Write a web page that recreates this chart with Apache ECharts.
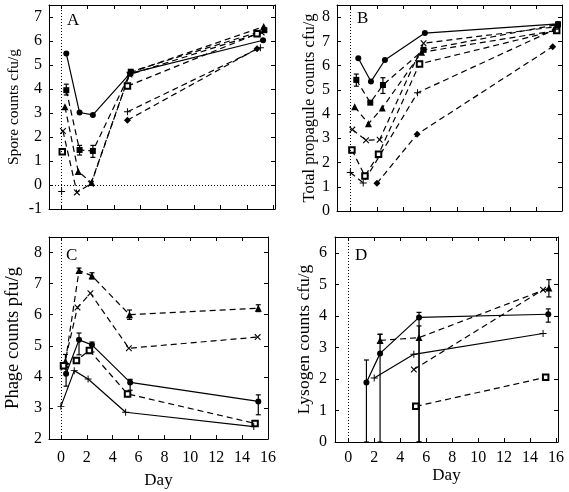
<!DOCTYPE html>
<html><head><meta charset="utf-8">
<script src="https://cdn.jsdelivr.net/npm/echarts@6/dist/echarts.min.js"></script>
<style>html,body{margin:0;padding:0;background:#fff}#c{width:569px;height:492px}</style>
</head><body><div id="c"></div>
<script>
// ---------- tick labels / names ----------
const dayTicks = [0, 2, 4, 6, 8, 10, 12, 14, 16];
const yTicksA = [-1, 0, 1, 2, 3, 4, 5, 6, 7];
const yTicksB = [0, 1, 2, 3, 4, 5, 6, 7, 8];
const yTicksC = [2, 3, 4, 5, 6, 7, 8];
const yTicksD = [0, 1, 2, 3, 4, 5, 6];
const panelLetters = ['A', 'B', 'C', 'D'];
const yNames = ['Spore counts cfu/g', 'Total propagule counts cfu/g', 'Phage counts pfu/g', 'Lysogen counts cfu/g'];
const xName = 'Day';

// ---------- data: [day, value] ----------
// Panel A - spore counts
const A_circle = [[0.4, 5.48], [1.4, 3.02], [2.4, 2.92], [5.2, 4.65], [15.2, 6.03]];
const A_square = [[0.4, 3.95], [1.4, 1.46], [2.4, 1.42], [5.25, 4.72], [15.3, 6.45]];
const A_squareErr = [[0.4, 3.75, 4.2], [1.4, 1.25, 1.65], [2.4, 1.15, 1.65]];
const A_triangle = [[0.3, 3.26], [1.3, 0.56], [2.3, 0.1], [5.2, 4.68], [15.25, 6.6]];
const A_cross = [[0.15, 2.25], [1.2, -0.31], [2.25, 0.05], [5.15, 4.6], [15.1, 6.35]];
const A_openSquare = [[0.1, 1.39], [5.0, 4.12], [14.75, 6.3]];
const A_plus = [[0.05, -0.27], [5.0, 3.05], [15.0, 5.72]];
const A_diamond = [[5.0, 2.7], [14.75, 5.68]];
// Panel B - total propagule counts
const B_circle = [[0.6, 6.3], [1.55, 5.34], [2.6, 6.23], [5.6, 7.34], [15.6, 7.72]];
const B_square = [[0.45, 5.41], [1.5, 4.47], [2.45, 5.2], [5.5, 6.65], [15.6, 7.7]];
const B_squareErr = [[0.45, 5.15, 5.65], [2.45, 4.85, 5.5]];
const B_triangle = [[0.33, 4.3], [1.36, 3.6], [2.4, 4.25], [5.35, 6.55], [15.5, 7.45]];
const B_cross = [[0.15, 3.36], [1.18, 2.92], [2.2, 2.94], [5.5, 6.92], [15.4, 7.6]];
const B_openSquare = [[0.12, 2.52], [1.1, 1.44], [2.12, 2.34], [5.2, 6.07], [15.5, 7.45]];
const B_plus = [[0, 1.59], [0.97, 1.16], [5.05, 4.88], [15.4, 7.5]];
const B_diamond = [[2.0, 1.14], [5.02, 3.17], [15.2, 6.78]];
// Panel C - phage counts
const C_triangle = [[0.35, 4.5], [1.4, 7.42], [2.4, 7.25], [5.3, 6.0], [15.25, 6.21]];
const C_triangleErr = [[0.35, 4.3, 4.72], [1.4, 7.35, 7.5], [2.4, 7.15, 7.35], [5.3, 5.85, 6.15], [15.25, 6.1, 6.32]];
const C_cross = [[0.2, 4.3], [1.28, 6.23], [2.28, 6.69], [5.25, 4.92], [15.2, 5.28]];
const C_circle = [[0.4, 4.1], [1.4, 5.19], [2.4, 5.03], [5.35, 3.82], [15.25, 3.21]];
const C_circleErr = [[0.4, 3.7, 4.34], [1.4, 4.71, 5.41], [2.4, 4.8, 5.12], [5.35, 3.57, 3.92], [15.25, 2.78, 3.42]];
const C_openSquare = [[0.2, 4.36], [1.2, 4.53], [2.2, 4.85], [5.15, 3.45], [15.0, 2.5]];
const C_plus = [[0, 3.05], [1.03, 4.2], [2.1, 3.93], [5.0, 2.86], [14.9, 2.4]];
// Panel D - lysogen counts
const D_circle = [[1.4, 1.89], [2.45, 2.81], [5.45, 3.95], [15.4, 4.05]];
const D_circleErr = [[1.4, 0, 2.6], [2.45, 0, 3.41], [5.45, 0, 4.11], [15.4, 3.8, 4.22]];
const D_plus = [[2.0, 2.03], [5.05, 2.78], [15.0, 3.44]];
const D_triangle = [[2.45, 3.22], [5.45, 3.31], [15.45, 4.88]];
const D_triangleErr = [[2.45, 3.15, 3.42], [5.45, 0, 3.68], [15.45, 4.6, 5.15]];
const D_cross = [[5.05, 2.3], [15.0, 4.83]];
const D_openSquare = [[5.2, 1.13], [15.2, 2.05]];

// ---------- layout ----------
const FONT = '"Liberation Serif", "Times New Roman", serif';
const grids = [
  {left: 49, top: 5, width: 226, height: 204},
  {left: 337, top: 5, width: 225, height: 206},
  {left: 49, top: 237, width: 219, height: 202},
  {left: 335, top: 237, width: 223, height: 205}
];
const xRanges = [[-0.9, 16.1], [-1.0, 15.9], [-0.92, 16.0], [-1.02, 16.15]];
const yRanges = [[-1, 7.5], [0, 8.5], [2, 8.5], [0, 6.5]];
const yTickSets = [yTicksA, yTicksB, yTicksC, yTicksD];
const yNameGaps = [27, 19, 26, 22];
const yNameSizes = [15.5, 16.5, 18.5, 17.5];
const yLabelMargins = [7, 7, 7, 8];
const showXLabels = [false, false, true, true];
const xLabelMargins = [8, 8, 11, 8];
const xNameGaps = [30, 30, 33, 21];
const letterPos = [[67, 12], [357, 10], [66, 247], [355, 247]];
const TICK_SIZE = 16;

const xAxes = [], yAxes = [];
for (let i = 0; i < 4; i++) {
  const base = {
    type: 'value', gridIndex: i, min: xRanges[i][0], max: xRanges[i][1],
    splitLine: {show: false},
    axisLine: {show: true, onZero: false, lineStyle: {color: '#000', width: 1}},
    axisTick: {show: true, inside: true, length: 4, customValues: dayTicks, lineStyle: {color: '#000'}}
  };
  xAxes.push(Object.assign({}, base, {
    position: 'bottom',
    name: showXLabels[i] ? xName : '', nameLocation: 'middle', nameGap: xNameGaps[i],
    nameTextStyle: {fontFamily: FONT, fontSize: 17, color: '#000'},
    axisLabel: {show: showXLabels[i], customValues: dayTicks, margin: xLabelMargins[i],
      fontFamily: FONT, fontSize: TICK_SIZE, color: '#000'}
  }));
  xAxes.push(Object.assign({}, base, {position: 'top', axisLabel: {show: false}}));
  const ybase = {
    type: 'value', gridIndex: i, min: yRanges[i][0], max: yRanges[i][1],
    splitLine: {show: false},
    axisLine: {show: true, onZero: false, lineStyle: {color: '#000', width: 1}},
    axisTick: {show: true, inside: true, length: 4, customValues: yTickSets[i], lineStyle: {color: '#000'}}
  };
  yAxes.push(Object.assign({}, ybase, {
    position: 'left', name: yNames[i], nameLocation: 'middle', nameGap: yNameGaps[i],
    nameTextStyle: {fontFamily: FONT, fontSize: yNameSizes[i], color: '#000'},
    axisLabel: {show: true, customValues: yTickSets[i], margin: yLabelMargins[i],
      fontFamily: FONT, fontSize: TICK_SIZE, color: '#000'}
  }));
  yAxes.push(Object.assign({}, ybase, {position: 'right', axisLabel: {show: false}}));
}

const PLUS = 'path://M4.3,0H5.7V4.3H10V5.7H5.7V10H4.3V5.7H0V4.3H4.3Z';
const MARK = {
  circle: {symbol: 'circle', size: 6},
  square: {symbol: 'rect', size: 6},
  triangle: {symbol: 'triangle', size: 7},
  cross: {symbol: PLUS, size: 8, rotate: 45},
  openSquare: {symbol: 'emptyRect', size: 5.5},
  plus: {symbol: PLUS, size: 7},
  diamond: {symbol: 'diamond', size: 7}
};

function lineSeries(panel, data, mark, dashed, extra) {
  const m = MARK[mark];
  return Object.assign({
    type: 'line', xAxisIndex: panel * 2, yAxisIndex: panel * 2, data: data,
    symbol: m.symbol, symbolSize: m.size, symbolRotate: m.rotate || 0,
    showAllSymbol: true, animation: false, z: 3,
    lineStyle: {color: '#000', width: 1.2, type: dashed ? [6, 4] : 'solid'},
    itemStyle: {color: '#000', borderColor: '#000', borderWidth: mark === 'openSquare' ? 1 : 0}
  }, extra || {});
}

function errRender(params, api) {
  const x = api.value(0), lo = api.value(1), hi = api.value(2);
  const p1 = api.coord([x, lo]), p2 = api.coord([x, hi]);
  const w = 2.5, st = {stroke: '#000', lineWidth: 1.2};
  return {type: 'group', children: [
    {type: 'line', shape: {x1: p1[0], y1: p1[1], x2: p2[0], y2: p2[1]}, style: st},
    {type: 'line', shape: {x1: p1[0] - w, y1: p1[1], x2: p1[0] + w, y2: p1[1]}, style: st},
    {type: 'line', shape: {x1: p2[0] - w, y1: p2[1], x2: p2[0] + w, y2: p2[1]}, style: st}
  ]};
}
function errSeries(panel, data) {
  return {type: 'custom', xAxisIndex: panel * 2, yAxisIndex: panel * 2, data: data,
    encode: {x: 0, y: [1, 2]}, renderItem: errRender, animation: false, z: 2, silent: true};
}

function zeroLines(panel, withY) {
  const d = [{xAxis: 0}];
  if (withY) d.push({yAxis: 0});
  return {type: 'line', xAxisIndex: panel * 2, yAxisIndex: panel * 2, data: [],
    markLine: {silent: true, symbol: 'none', animation: false, label: {show: false},
      lineStyle: {color: '#000', width: 1, type: [1, 2]}, data: d}};
}

const gap = (x) => [x, '-'];

const series = [
  zeroLines(0, true), zeroLines(1, false), zeroLines(2, false), zeroLines(3, false),
  // A
  lineSeries(0, A_circle, 'circle', false),
  lineSeries(0, A_square, 'square', true),
  errSeries(0, A_squareErr),
  lineSeries(0, A_triangle, 'triangle', true),
  lineSeries(0, A_cross, 'cross', true),
  lineSeries(0, [A_openSquare[0], gap(2), A_openSquare[1], A_openSquare[2]], 'openSquare', true),
  lineSeries(0, [A_plus[0], gap(2), A_plus[1], A_plus[2]], 'plus', true),
  lineSeries(0, A_diamond, 'diamond', true),
  // B
  lineSeries(1, B_circle, 'circle', false),
  lineSeries(1, B_square, 'square', true),
  errSeries(1, B_squareErr),
  lineSeries(1, B_triangle, 'triangle', true),
  lineSeries(1, B_cross, 'cross', true),
  lineSeries(1, B_openSquare, 'openSquare', true),
  lineSeries(1, B_plus, 'plus', true),
  lineSeries(1, B_diamond, 'diamond', true),
  // C
  lineSeries(2, C_triangle, 'triangle', true),
  errSeries(2, C_triangleErr),
  lineSeries(2, C_cross, 'cross', true),
  lineSeries(2, C_circle, 'circle', false),
  errSeries(2, C_circleErr),
  lineSeries(2, C_openSquare, 'openSquare', true),
  lineSeries(2, C_plus, 'plus', false),
  // D
  lineSeries(3, D_circle, 'circle', false),
  errSeries(3, D_circleErr),
  lineSeries(3, D_plus, 'plus', false),
  lineSeries(3, D_triangle, 'triangle', true),
  errSeries(3, D_triangleErr),
  lineSeries(3, D_cross, 'cross', true),
  lineSeries(3, D_openSquare, 'openSquare', true)
];

const graphic = panelLetters.map((t, i) => ({
  type: 'text', left: letterPos[i][0], top: letterPos[i][1],
  style: {text: t, font: '17px ' + FONT, fill: '#000'}
}));

const chart = echarts.init(document.getElementById('c'), null, {renderer: 'canvas'});
chart.setOption({
  backgroundColor: '#fff',
  animation: false,
  grid: grids,
  xAxis: xAxes,
  yAxis: yAxes,
  series: series,
  graphic: graphic
});
</script>
</body></html>
